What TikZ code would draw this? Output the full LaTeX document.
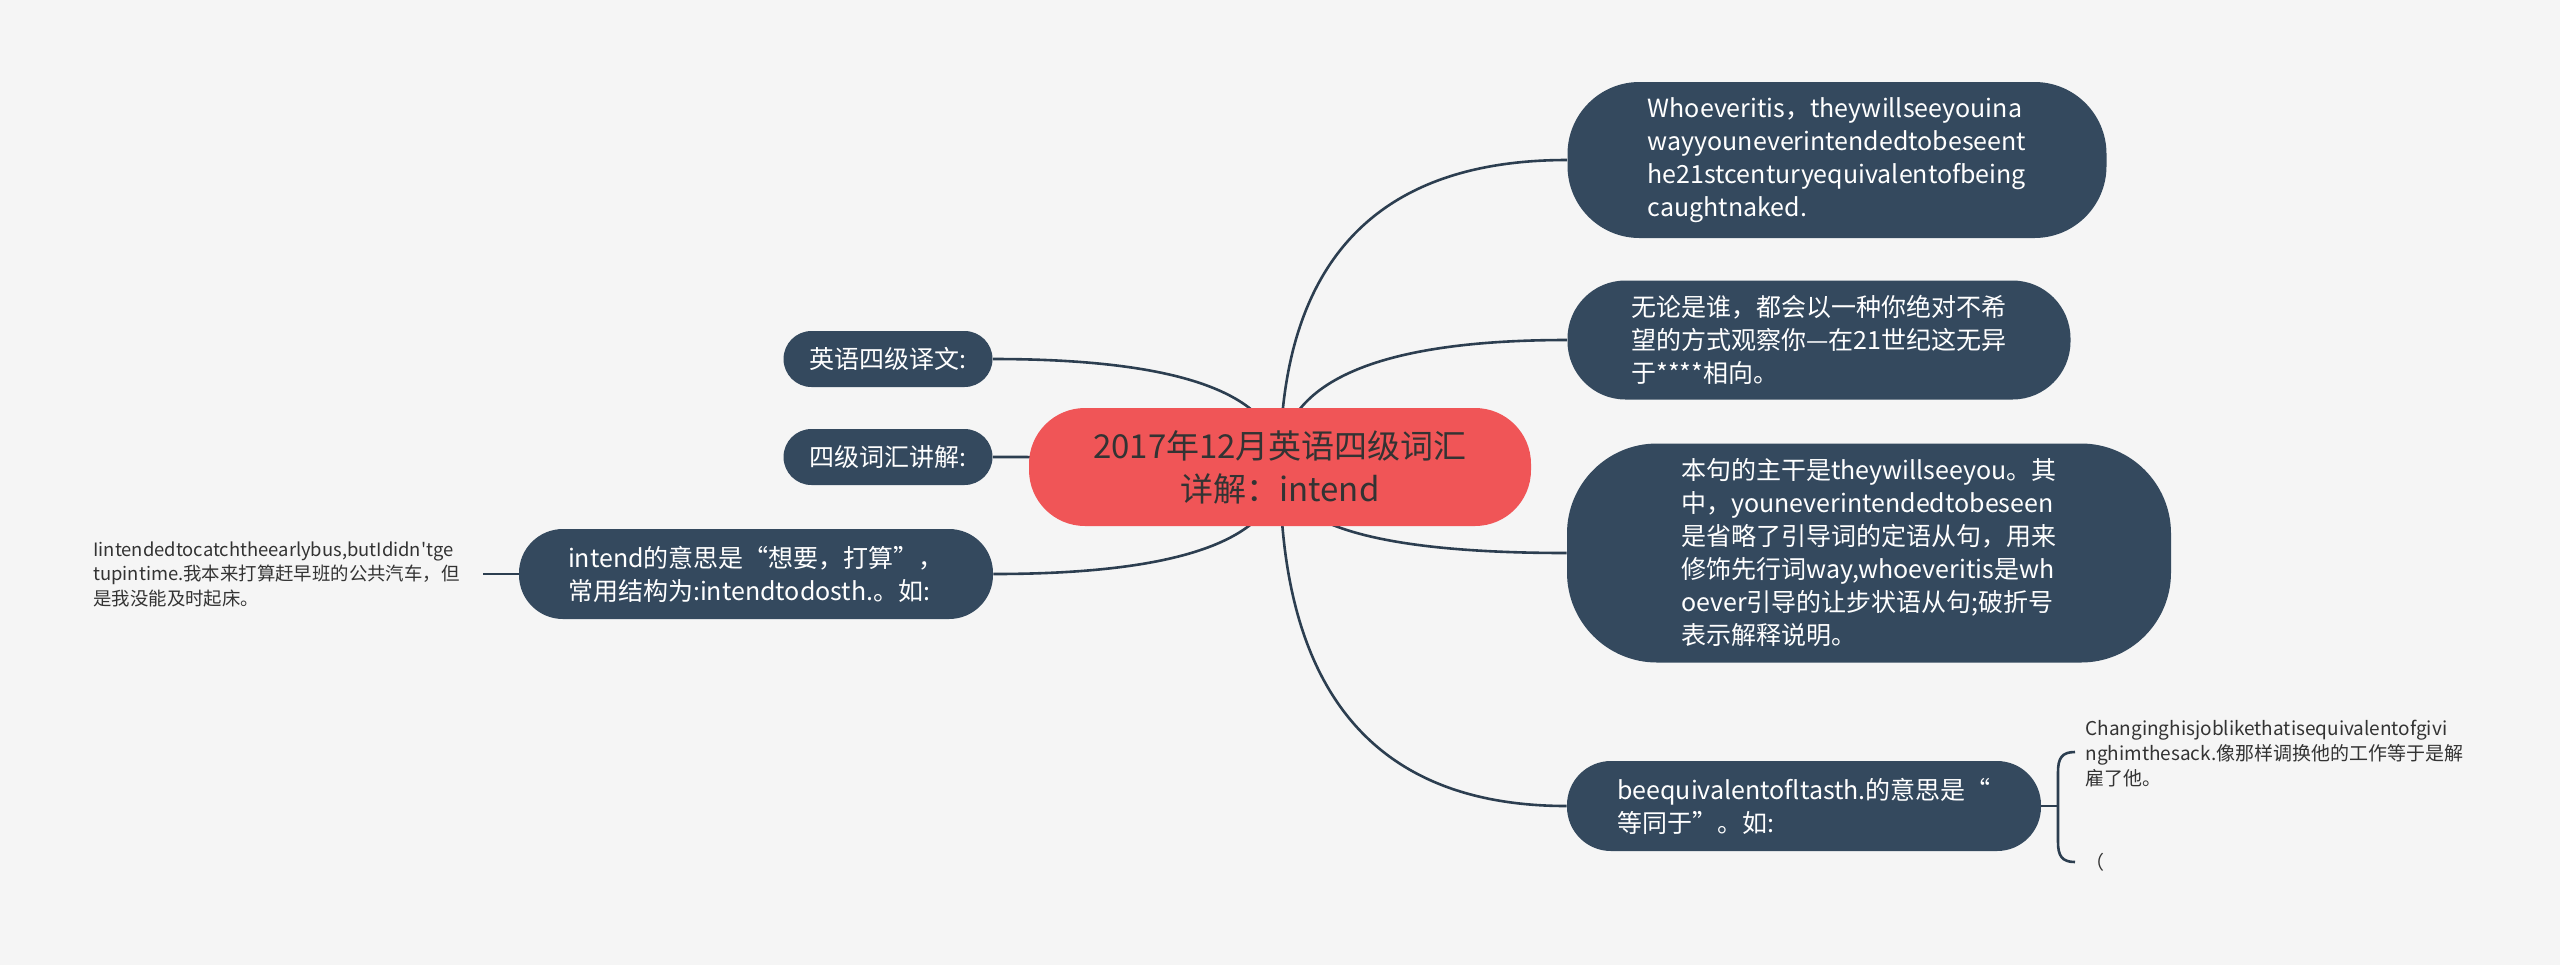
\documentclass[tikz,border=0pt]{standalone}
\usepackage{fontspec}
\setmainfont{Noto Sans CJK SC}
\usetikzlibrary{calc,backgrounds}
\definecolor{bgc}{HTML}{F5F5F5}
\definecolor{topicc}{HTML}{34495E}
\definecolor{linec}{HTML}{2C3E50}
\definecolor{rootc}{HTML}{F05557}
\definecolor{roottext}{HTML}{333333}
\definecolor{leaftext}{HTML}{333333}
\begin{document}
\begin{tikzpicture}[x=0.5pt,y=-0.5pt,
 topic/.style={fill=topicc, text=white, align=left, inner sep=0pt, font=\fontsize{12.5pt}{16.5pt}\selectfont},
 root/.style={fill=rootc, text=roottext, align=center, inner sep=0pt, font=\fontsize{16.5pt}{21.5pt}\selectfont},
 leaf/.style={text=leaftext, align=left, inner sep=0pt, anchor=west},
 link/.style={draw=linec, line width=1.3pt},
]
\useasboundingbox (0,0) rectangle (2560,965);

% root
\node[root, minimum width=251pt, minimum height=59pt, rounded corners=28pt] (c) at (1280,467) {2017年12月英语四级词汇\\详解：intend};

% right topics
\node[topic, minimum width=269.5pt, minimum height=78pt, rounded corners=36pt] (n1) at (1837,160)
 {Whoeveritis，theywillseeyouina\\wayyouneverintendedtobeseent\\he21stcenturyequivalentofbeing\\caughtnaked.};
\node[topic, minimum width=251.5pt, minimum height=59.5pt, rounded corners=29pt] (n2) at (1819,340)
 {无论是谁，都会以一种你绝对不希\\望的方式观察你—在21世纪这无异\\于****相向。};
\node[topic, minimum width=302pt, minimum height=109.5pt, rounded corners=45pt] (n3) at (1869,553)
 {本句的主干是theywillseeyou。其\\中，youneverintendedtobeseen\\是省略了引导词的定语从句，用来\\修饰先行词way,whoeveritis是wh\\oever引导的让步状语从句;破折号\\表示解释说明。};
\node[topic, minimum width=237pt, minimum height=45pt, rounded corners=22pt] (n4) at (1804,806)
 {beequivalentofltasth.的意思是“\\等同于”。如:};

% left topics
\node[topic, minimum width=104.5pt, minimum height=28pt, rounded corners=14pt] (L1) at (888,359) {英语四级译文:};
\node[topic, minimum width=104.5pt, minimum height=28pt, rounded corners=14pt] (L2) at (888,457) {四级词汇讲解:};
\node[topic, minimum width=237pt, minimum height=45pt, rounded corners=22pt] (L3) at (756,574)
 {intend的意思是“想要，打算”，\\常用结构为:intendtodosth.。如:};

% leaves
\node[leaf, font=\fontsize{9.2pt}{12.25pt}\selectfont] (l1) at (93,574)
 {Iintendedtocatchtheearlybus,butIdidn\textquotesingle tge\\tupintime.我本来打算赶早班的公共汽车，但\\是我没能及时起床。};
\node[leaf, font=\fontsize{9.5pt}{12.5pt}\selectfont] (r1) at (2085,754)
 {Changinghisjoblikethatisequivalentofgivi\\nghimthesack.像那样调换他的工作等于是解\\雇了他。};
\node[leaf, font=\fontsize{9.5pt}{12.5pt}\selectfont] (r2) at (2085,862) {（};

\coordinate (lk) at (483,574);
\coordinate (bk) at (2058,806);

\begin{scope}[on background layer]
\fill[bgc] (0,0) rectangle (2560,965);
\foreach \n in {n1,n2,n3,n4} {
  \coordinate (q) at (c.center |- \n.west);
  \draw[link] (c.center) .. controls ($(c.center)!0.6667!(q)$) and ($(\n.west)!0.6667!(q)$) .. (\n.west);
}
\foreach \n in {L1,L2,L3} {
  \coordinate (q) at (c.center |- \n.east);
  \draw[link] (c.center) .. controls ($(c.center)!0.6667!(q)$) and ($(\n.east)!0.6667!(q)$) .. (\n.east);
}
\draw[link] (L3.west) -- (lk);
\draw[link] (n4.east) -- (bk);
\draw[link] (2075,752) .. controls (2062,752) and (2058,758) .. (2058,772) -- (2058,842) .. controls (2058,856) and (2062,862) .. (2075,862);
\end{scope}
\end{tikzpicture}
\end{document}
